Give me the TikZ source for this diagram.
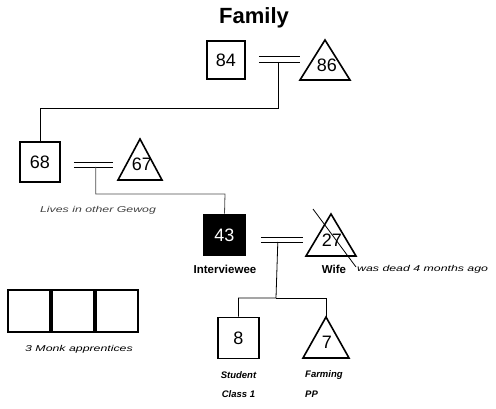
\documentclass[tikz,border=0pt]{standalone}
\usepackage{fontspec}
\setmainfont{Liberation Sans}
\newfontfamily\widesans[FakeStretch=1.45]{Liberation Sans}
\usetikzlibrary{calc}
\begin{document}
\begin{tikzpicture}[x=1pt,y=-1pt,
  sqr/.style={draw,line width=1.6pt,minimum size=40pt,inner sep=0pt,
    font=\fontsize{18}{18}\selectfont},
  tri/.style={draw,line width=1.6pt,line join=miter},
  num/.style={font=\fontsize{18}{18}\selectfont,inner sep=0pt},
  link/.style={line width=0.8pt},
  widenote/.style={font=\widesans\fontsize{8.5}{8.5}\selectfont\itshape,inner sep=0pt},
  lbl/.style={font=\fontsize{11.5}{11.5}\selectfont\bfseries,inner sep=0pt},
  job/.style={font=\fontsize{9.5}{9.5}\selectfont\bfseries\itshape,inner sep=0pt},
]
\useasboundingbox (0,0) rectangle (496,409);

\node[font=\fontsize{22}{22}\selectfont\bfseries] (title) at (254,18) {Family};

% grandparents
\node[sqr,minimum size=38pt] (p84) at (226,60) {84};
\coordinate (t86) at (325,40);
\draw[tri] (t86) -- ++(25,40) -- ++(-50,0) -- cycle;
\node[num] (n86) at (327,65) {86};

% parents
\node[sqr] (p68) at (40,162) {68};
\coordinate (t67) at (140,139);
\draw[tri] (t67) -- ++(22,41) -- ++(-44,0) -- cycle;
\node[num] (n67) at (142,164) {67};
\node[widenote,text=black!75] (gewog) at (98,210) {Lives in other Gewog};

% interviewee and wife
\node[sqr,minimum size=41pt,fill=black,text=white] (p43) at (224.5,235) {43};
\node[lbl] (iv) at (225,269) {Interviewee};
\coordinate (t27) at (331,214);
\draw[tri] (t27) -- ++(25,42) -- ++(-50,0) -- cycle;
\node[num] (n27) at (332,240) {27};
\draw[line width=0.8pt] (313,209) -- (356,267);
\node[lbl] (wife) at (334,269) {Wife};
\node[widenote,anchor=west] (dead) at (357,269) {was dead 4 months ago};

% children
\node[sqr,minimum size=41pt] (p8) at (238.5,338) {8};
\node[job] (stud) at (238.5,375) {Student};
\node[job] (cls) at (238.5,394) {Class 1};
\coordinate (t7) at (326,317);
\draw[tri] (t7) -- ++(23,41) -- ++(-46,0) -- cycle;
\node[num] (n7) at (327,342) {7};
\node[job,anchor=west] (farm) at (305,375) {Farming};
\node[job,anchor=west] (pp) at (305,394) {PP};

% monk apprentices
\node[sqr,minimum size=42pt] (m1) at (29,311) {};
\node[sqr,minimum size=42pt] (m2) at (73,311) {};
\node[sqr,minimum size=42pt] (m3) at (117,311) {};
\node[widenote] (monks) at (79,349) {3 Monk apprentices};

% marriage lines
\coordinate (a1) at ($(p84.east)+(13,-4)$);
\coordinate (a2) at ($(p84.east)+(13,2)$);
\draw[link] (a1) -- ++(41,0) (a2) -- ++(41,0);
\coordinate (d1) at ($(a2)+(20,0)$);

\coordinate (b1) at ($(p68.east)+(13,0)$);
\coordinate (b2) at ($(p68.east)+(13,5)$);
\draw[link] (b1) -- ++(39,0) (b2) -- ++(39,0);
\coordinate (d2) at ($(b2)+(22,0)$);

\coordinate (c1) at ($(p43.east)+(15,2)$);
\coordinate (c2) at ($(p43.east)+(15,7)$);
\draw[link] (c1) -- ++(42,0) (c2) -- ++(42,0);
\coordinate (d3) at ($(c2)+(17,0)$);

% lines of descent
\draw[link] (d1) |- (40,108) -- (p68.north);
\draw[link,black!70] (d2) |- (225,194) -- (p43.north);
\draw[link] (d3) -- (276,298) -| (p8.north);
\draw[link] (276,298) -| (t7);
\end{tikzpicture}
\end{document}
